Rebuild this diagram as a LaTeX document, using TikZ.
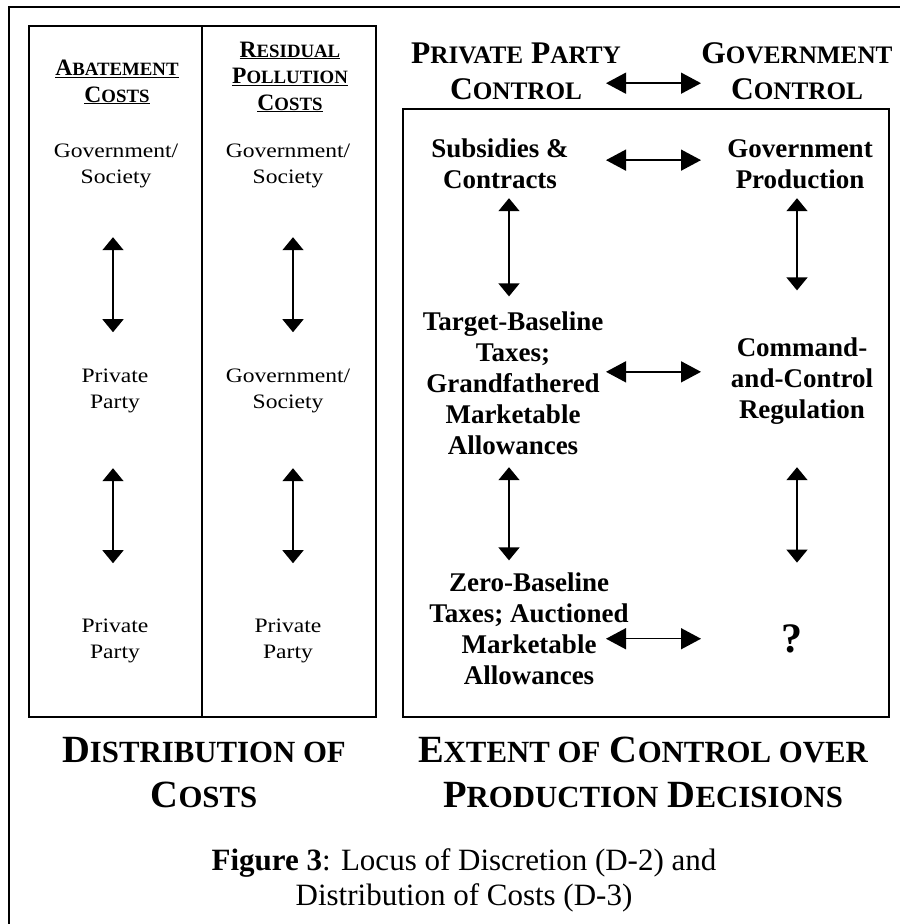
\documentclass[tikz,border=0pt]{standalone}
\usepackage{fontspec}
\usetikzlibrary{arrows.meta}
\setmainfont{Liberation Serif}
\newfontfamily\widefont[FakeStretch=1.15]{Liberation Serif}
\makeatletter
\newcommand{\lsc}[1]{{\fontsize{\fpeval{0.8*\f@size}}{\f@baselineskip}\selectfont #1}}
\makeatother
\tikzset{
  lbl/.style={font=\widefont\fontsize{20.5}{26}\selectfont, align=center, inner sep=0pt, anchor=base, text depth=0pt},
  colhead/.style={font=\bfseries\fontsize{23.5}{26.5}\selectfont, align=center, inner sep=0pt, anchor=base, text depth=0pt},
  tophead/.style={font=\bfseries\fontsize{31.5}{36}\selectfont, align=center, inner sep=0pt, anchor=base, text depth=0pt},
  choice/.style={font=\bfseries\fontsize{27}{31}\selectfont, align=center, inner sep=0pt, anchor=base, text depth=0pt},
  title/.style={font=\bfseries\fontsize{38.5}{45}\selectfont, align=center, inner sep=0pt, anchor=base, text depth=0pt},
  caption/.style={font=\fontsize{31}{35}\selectfont, align=center, inner sep=0pt, anchor=base, text depth=0pt},
  box/.style={line width=2pt},
  vdar/.style={{Triangle[length=13pt,width=21pt]}-{Triangle[length=13pt,width=21pt]}, line width=1.5pt},
  hdar/.style={{Triangle[length=20pt,width=21pt]}-{Triangle[length=20pt,width=21pt]}, line width=1.5pt}
}
\begin{document}
\begin{tikzpicture}[x=1pt,y=-1pt]
  \useasboundingbox (0,0) rectangle (900,924);
  % frames
  \draw[box] (9,924) -- (9,7) -- (900,7);
  \draw[box] (29,26) rectangle (376,717);
  \draw[box] (202,26) -- (202,717);
  \draw[box] (403,109) rectangle (889,717);
  % arrow columns and ends
  \coordinate (xa) at (113,0);
  \coordinate (xb) at (293,0);
  \coordinate (xl) at (509,0);
  \coordinate (xr) at (797,0);
  \coordinate (hx1) at (606,0);
  \coordinate (hx2) at (701,0);
  % distribution of costs
  \node[colhead] (ac) at (117,102) {\underline{A\lsc{BATEMENT}}\\\underline{C\lsc{OSTS}}};
  \node[colhead] (rpc) at (290,110) {\underline{R\lsc{ESIDUAL}}\\\underline{P\lsc{OLLUTION}}\\\underline{C\lsc{OSTS}}};
  \node[lbl] (gs1) at (116,183) {Government/\\Society};
  \node[lbl] (gs2) at (288,183) {Government/\\Society};
  \node[lbl] (pp1) at (115,408) {Private\\Party};
  \node[lbl] (gs3) at (288,408) {Government/\\Society};
  \node[lbl] (pp2) at (115,658) {Private\\Party};
  \node[lbl] (pp3) at (288,658) {Private\\Party};
  \draw[vdar] ([yshift=-54pt]gs1.south -| xa) -- ([yshift=36pt]pp1.north -| xa);
  \draw[vdar] ([yshift=-60pt]pp1.south -| xa) -- ([yshift=55pt]pp2.north -| xa);
  \draw[vdar] ([yshift=-54pt]gs2.south -| xb) -- ([yshift=36pt]gs3.north -| xb);
  \draw[vdar] ([yshift=-60pt]gs3.south -| xb) -- ([yshift=55pt]pp3.north -| xb);
  % control over production
  \node[tophead] (ppc) at (516,99) {P\lsc{RIVATE} P\lsc{ARTY}\\C\lsc{ONTROL}};
  \node[tophead] (gvc) at (797,99) {G\lsc{OVERNMENT}\\C\lsc{ONTROL}};
  \node[choice] (subs) at (500,188) {Subsidies \&\\Contracts};
  \node[choice] (govp) at (800,188) {Government\\Production};
  \node[choice] (tbl) at (513,454) {Target-Baseline\\Taxes;\\Grandfathered\\Marketable\\Allowances};
  \node[choice] (ccr) at (802,418) {Command-\\and-Control\\Regulation};
  \node[choice] (zbl) at (529,684) {Zero-Baseline\\Taxes; Auctioned\\Marketable\\Allowances};
  \node[choice, font=\bfseries\fontsize{42}{46}\selectfont] (qm) at (792,652) {?};
  \draw[hdar] ([yshift=-12.5pt]ppc.east -| hx1) -- ([yshift=-12.5pt]ppc.east -| hx2);
  \draw[hdar] ([yshift=3pt]subs.east -| hx1) -- ([yshift=3pt]subs.east -| hx2);
  \draw[hdar] ([yshift=10.8pt]tbl.east -| hx1) -- ([yshift=10.8pt]tbl.east -| hx2);
  \draw[hdar] ([yshift=-10.6pt]zbl.east -| hx1) -- ([yshift=-10.6pt]zbl.east -| hx2);
  \draw[vdar] ([yshift=-10pt]subs.south -| xl) -- ([yshift=14.7pt]tbl.north -| xl);
  \draw[vdar] ([yshift=-13pt]tbl.south -| xl) -- ([yshift=11.7pt]zbl.north -| xl);
  \draw[vdar] ([yshift=-10pt]govp.south -| xr) -- ([yshift=46.7pt]ccr.north -| xr);
  \draw[vdar] ([yshift=-49pt]ccr.south -| xr) -- ([yshift=61.4pt]qm.north -| xr);
  % titles
  \node[title] (dist) at (204,807) {D\lsc{ISTRIBUTION OF}\\C\lsc{OSTS}};
  \node[title] (ext) at (643,807) {E\lsc{XTENT OF} C\lsc{ONTROL OVER}\\P\lsc{RODUCTION} D\lsc{ECISIONS}};
  \node[caption] (cap) at (464,905) {\textbf{Figure 3}: Locus of Discretion (D-2) and\\Distribution of Costs (D-3)};
\end{tikzpicture}
\end{document}
